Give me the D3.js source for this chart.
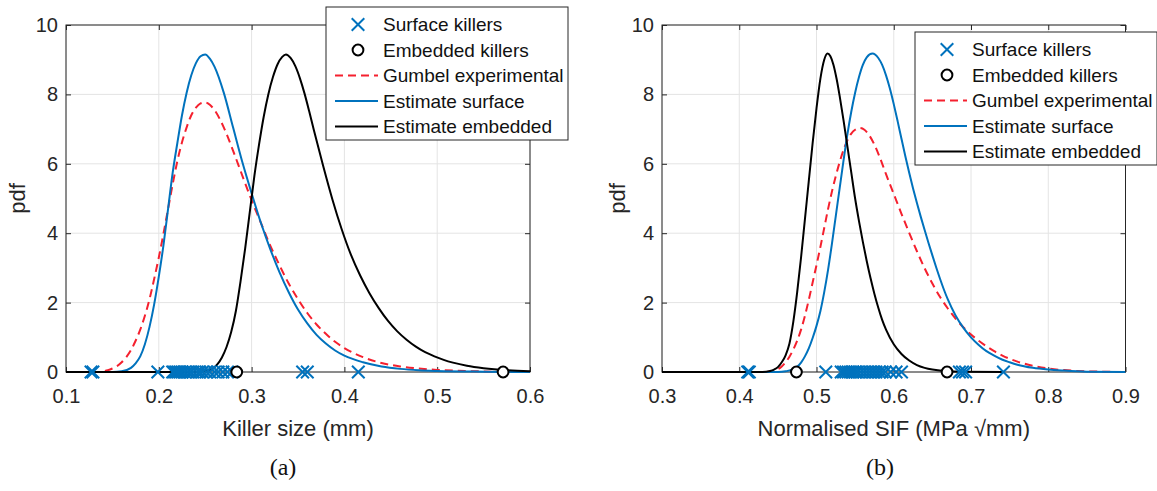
<!DOCTYPE html>
<html>
<head>
<meta charset="utf-8">
<script src="https://cdn.jsdelivr.net/npm/d3@7"></script>
<style>
  body { margin: 0; background: #fff; }
  svg { display: block; }
</style>
</head>
<body>
<script>
// ---- panel (a): killer size ----
const sizeTicks = [0.1, 0.2, 0.3, 0.4, 0.5, 0.6];
const pdfTicks = [0, 2, 4, 6, 8, 10];

const sizeSurfaceKillers = [0.127, 0.129, 0.199, 0.215, 0.217, 0.219, 0.221, 0.223, 0.225, 0.228, 0.231,
  0.234, 0.237, 0.241, 0.244, 0.247, 0.251, 0.255, 0.260, 0.264, 0.269, 0.274, 0.279, 0.355, 0.360, 0.415];
const sizeEmbeddedKillers = [0.284, 0.571];

const sizeGumbelExp = [[0.10, 0], [0.135, 0], [0.14, 0.02], [0.145, 0.05], [0.15, 0.1], [0.155, 0.17],
  [0.16, 0.28], [0.165, 0.43], [0.17, 0.63], [0.175, 0.9], [0.18, 1.22], [0.185, 1.62], [0.19, 2.1],
  [0.195, 2.68], [0.20, 3.3], [0.205, 3.98], [0.21, 4.7], [0.215, 5.42], [0.22, 6.08], [0.225, 6.62],
  [0.23, 7.05], [0.235, 7.4], [0.24, 7.62], [0.245, 7.74], [0.25, 7.77], [0.255, 7.7], [0.26, 7.55],
  [0.27, 7.05], [0.28, 6.38], [0.29, 5.66], [0.30, 4.95], [0.31, 4.3], [0.32, 3.65], [0.33, 3.08],
  [0.34, 2.55], [0.35, 2.1], [0.36, 1.7], [0.37, 1.37], [0.38, 1.1], [0.39, 0.87], [0.40, 0.69],
  [0.42, 0.43], [0.44, 0.26], [0.46, 0.16], [0.48, 0.1], [0.50, 0.06], [0.53, 0.03], [0.56, 0.01], [0.60, 0]];
const sizeEstSurface = [[0.10, 0], [0.15, 0], [0.16, 0.02], [0.17, 0.12], [0.175, 0.25], [0.18, 0.45],
  [0.185, 0.8], [0.19, 1.3], [0.195, 1.95], [0.20, 2.75], [0.205, 3.65], [0.21, 4.7], [0.215, 5.75],
  [0.22, 6.6], [0.225, 7.4], [0.23, 8.05], [0.235, 8.55], [0.24, 8.9], [0.245, 9.1], [0.25, 9.15],
  [0.255, 9.03], [0.26, 8.8], [0.27, 8.05], [0.28, 7.05], [0.29, 6.05], [0.30, 5.15], [0.31, 4.3],
  [0.32, 3.55], [0.33, 2.88], [0.34, 2.3], [0.35, 1.8], [0.36, 1.4], [0.37, 1.07], [0.38, 0.82],
  [0.39, 0.62], [0.40, 0.47], [0.42, 0.28], [0.44, 0.16], [0.46, 0.09], [0.48, 0.05], [0.50, 0.03],
  [0.55, 0.01], [0.60, 0]];
const sizeEstEmbedded = [[0.10, 0], [0.24, 0], [0.248, 0.02], [0.258, 0.1], [0.263, 0.22], [0.268, 0.42],
  [0.273, 0.72], [0.278, 1.15], [0.283, 1.75], [0.288, 2.6], [0.293, 3.55], [0.298, 4.6], [0.303, 5.65],
  [0.308, 6.55], [0.313, 7.35], [0.318, 8.0], [0.323, 8.5], [0.328, 8.87], [0.333, 9.08], [0.337, 9.15],
  [0.342, 9.05], [0.347, 8.82], [0.352, 8.47], [0.357, 8.03], [0.362, 7.52], [0.367, 6.98], [0.377, 5.95],
  [0.387, 4.98], [0.397, 4.12], [0.407, 3.38], [0.417, 2.78], [0.427, 2.27], [0.437, 1.84], [0.447, 1.47],
  [0.457, 1.17], [0.467, 0.93], [0.477, 0.73], [0.487, 0.57], [0.497, 0.45], [0.507, 0.35], [0.517, 0.27],
  [0.532, 0.18], [0.55, 0.11], [0.575, 0.05], [0.60, 0.02]];

// ---- panel (b): normalised SIF ----
const sifTicks = [0.3, 0.4, 0.5, 0.6, 0.7, 0.8, 0.9];

const sifSurfaceKillers = [0.411, 0.413, 0.512, 0.532, 0.535, 0.538, 0.541, 0.544, 0.547, 0.550, 0.553, 0.557,
  0.561, 0.565, 0.569, 0.573, 0.577, 0.581, 0.585, 0.589, 0.596, 0.603, 0.610, 0.685, 0.689, 0.693, 0.742];
const sifEmbeddedKillers = [0.474, 0.669];

const sifGumbelExp = [[0.30, 0], [0.435, 0], [0.445, 0.04], [0.45, 0.08], [0.455, 0.16], [0.46, 0.28],
  [0.465, 0.44], [0.47, 0.65], [0.475, 0.9], [0.48, 1.22], [0.485, 1.62], [0.49, 2.08], [0.495, 2.58],
  [0.50, 3.08], [0.505, 3.6], [0.51, 4.15], [0.515, 4.7], [0.52, 5.2], [0.525, 5.65], [0.53, 6.05],
  [0.535, 6.4], [0.54, 6.68], [0.545, 6.87], [0.55, 6.98], [0.556, 7.03], [0.562, 6.98], [0.568, 6.83],
  [0.575, 6.55], [0.582, 6.18], [0.59, 5.7], [0.60, 5.13], [0.61, 4.56], [0.62, 4.01], [0.63, 3.48],
  [0.64, 2.99], [0.65, 2.55], [0.66, 2.16], [0.67, 1.83], [0.68, 1.54], [0.69, 1.29], [0.70, 1.08],
  [0.71, 0.9], [0.72, 0.74], [0.73, 0.6], [0.74, 0.48], [0.75, 0.38], [0.76, 0.3], [0.78, 0.18],
  [0.80, 0.1], [0.82, 0.055], [0.85, 0.02], [0.90, 0]];
const sifEstSurface = [[0.30, 0], [0.45, 0], [0.46, 0.02], [0.47, 0.08], [0.475, 0.15], [0.48, 0.27],
  [0.485, 0.45], [0.49, 0.68], [0.495, 0.98], [0.50, 1.33], [0.505, 1.75], [0.51, 2.3], [0.515, 2.95],
  [0.52, 3.7], [0.525, 4.5], [0.53, 5.3], [0.535, 6.1], [0.54, 6.85], [0.545, 7.5], [0.55, 8.05],
  [0.555, 8.5], [0.56, 8.85], [0.565, 9.07], [0.5725, 9.18], [0.58, 9.05], [0.585, 8.85], [0.59, 8.55],
  [0.595, 8.17], [0.60, 7.72], [0.605, 7.23], [0.61, 6.72], [0.615, 6.22], [0.62, 5.74], [0.625, 5.29],
  [0.63, 4.87], [0.635, 4.47], [0.64, 4.09], [0.645, 3.72], [0.65, 3.36], [0.655, 3.01], [0.66, 2.68],
  [0.665, 2.37], [0.67, 2.09], [0.68, 1.63], [0.69, 1.28], [0.70, 1.0], [0.71, 0.78], [0.72, 0.6],
  [0.73, 0.47], [0.74, 0.36], [0.75, 0.28], [0.76, 0.21], [0.78, 0.12], [0.80, 0.07], [0.82, 0.04],
  [0.85, 0.01], [0.90, 0]];
const sifEstEmbedded = [[0.30, 0], [0.43, 0], [0.44, 0.03], [0.445, 0.07], [0.45, 0.14], [0.455, 0.28],
  [0.46, 0.48], [0.465, 0.82], [0.47, 1.45], [0.475, 2.3], [0.48, 3.3], [0.485, 4.4], [0.49, 5.5],
  [0.495, 6.6], [0.50, 7.6], [0.505, 8.45], [0.51, 9.0], [0.5142, 9.18], [0.518, 9.1], [0.522, 8.85],
  [0.526, 8.45], [0.53, 7.95], [0.535, 7.25], [0.54, 6.5], [0.545, 5.75], [0.55, 5.0], [0.555, 4.35],
  [0.56, 3.75], [0.565, 3.2], [0.57, 2.7], [0.575, 2.25], [0.58, 1.85], [0.585, 1.5], [0.59, 1.22],
  [0.60, 0.8], [0.61, 0.52], [0.62, 0.33], [0.63, 0.2], [0.64, 0.12], [0.65, 0.07], [0.665, 0.03],
  [0.69, 0.01], [0.742, 0]];

const legendLabels = ["Surface killers", "Embedded killers", "Gumbel experimental", "Estimate surface", "Estimate embedded"];

// ---- estilo ----
const WIDTH = 1157, HEIGHT = 491;
const PLOT_TOP = 25, PLOT_BOTTOM = 372;
const BLUE = "#0072bd", RED = "#f5202e", BLACK = "#000";
const AXIS = "#262626", GRID = "#e4e4e4";
const SANS = "'Liberation Sans', Arial, sans-serif";

const svg = d3.select("body").append("svg")
  .attr("width", WIDTH)
  .attr("height", HEIGHT)
  .attr("viewBox", `0 0 ${WIDTH} ${HEIGHT}`);

function styleAxis(sel, showText) {
  sel.select(".domain").remove();
  sel.selectAll(".tick line").attr("stroke", AXIS).attr("stroke-width", 1);
  sel.selectAll(".tick text")
    .attr("fill", AXIS)
    .style("font-family", SANS)
    .style("font-size", "20px")
    .style("display", showText ? null : "none");
}

function drawLegend(x0, y0) {
  const w = 242, h = 133, step = 25.5;
  const g = svg.append("g").attr("transform", `translate(${x0},${y0})`);
  g.append("rect").attr("width", w).attr("height", h)
    .attr("fill", "#fff").attr("stroke", AXIS).attr("stroke-width", 1);

  const rows = g.selectAll("g.row").data(legendLabels).join("g")
    .attr("class", "row")
    .attr("transform", (d, i) => `translate(0,${17.5 + i * step})`);

  rows.append("text")
    .attr("x", 57)
    .attr("dy", "0.36em")
    .text(d => d)
    .style("font-family", SANS)
    .style("font-size", "19px")
    .attr("fill", "#111");

  // muestras
  const cross = d3.symbol().type(d3.symbolX).size(105);
  g.append("path").attr("d", cross).attr("transform", `translate(32,17.5)`)
    .attr("fill", "none").attr("stroke", BLUE).attr("stroke-width", 2);
  g.append("circle").attr("cx", 32).attr("cy", 17.5 + step).attr("r", 5.4)
    .attr("fill", "#fff").attr("stroke", BLACK).attr("stroke-width", 2);
  const lineStyles = [[RED, "8,5"], [BLUE, null], [BLACK, null]];
  lineStyles.forEach(([c, dash], i) => {
    g.append("line")
      .attr("x1", 9).attr("x2", 52)
      .attr("y1", 17.5 + (i + 2) * step).attr("y2", 17.5 + (i + 2) * step)
      .attr("stroke", c).attr("stroke-width", 2)
      .attr("stroke-dasharray", dash);
  });
}

function drawPanel(cfg) {
  const x = d3.scaleLinear().domain(cfg.xDomain).range([cfg.x0, cfg.x1]);
  const y = d3.scaleLinear().domain([0, 10]).range([PLOT_BOTTOM, PLOT_TOP]);
  const g = svg.append("g");

  // rejilla
  g.append("g").selectAll("line").data(cfg.xTicks).join("line")
    .attr("x1", d => x(d)).attr("x2", d => x(d))
    .attr("y1", PLOT_TOP).attr("y2", PLOT_BOTTOM)
    .attr("stroke", GRID).attr("stroke-width", 1);
  g.append("g").selectAll("line").data(pdfTicks).join("line")
    .attr("x1", cfg.x0).attr("x2", cfg.x1)
    .attr("y1", d => y(d)).attr("y2", d => y(d))
    .attr("stroke", GRID).attr("stroke-width", 1);

  // ejes con marcas hacia dentro, como en MATLAB
  g.append("g").attr("transform", `translate(0,${PLOT_BOTTOM})`)
    .call(d3.axisBottom(x).tickValues(cfg.xTicks).tickFormat(d3.format(".1f"))
      .tickSizeInner(-5).tickSizeOuter(0).tickPadding(17))
    .call(s => styleAxis(s, true));
  g.append("g").attr("transform", `translate(0,${PLOT_TOP})`)
    .call(d3.axisTop(x).tickValues(cfg.xTicks).tickSizeInner(-5).tickSizeOuter(0))
    .call(s => styleAxis(s, false));
  g.append("g").attr("transform", `translate(${cfg.x0},0)`)
    .call(d3.axisLeft(y).tickValues(pdfTicks).tickFormat(d3.format("d"))
      .tickSizeInner(-5).tickSizeOuter(0).tickPadding(8))
    .call(s => styleAxis(s, true));
  g.append("g").attr("transform", `translate(${cfg.x1},0)`)
    .call(d3.axisRight(y).tickValues(pdfTicks).tickSizeInner(-5).tickSizeOuter(0))
    .call(s => styleAxis(s, false));

  g.append("rect")
    .attr("x", cfg.x0).attr("y", PLOT_TOP)
    .attr("width", cfg.x1 - cfg.x0).attr("height", PLOT_BOTTOM - PLOT_TOP)
    .attr("fill", "none").attr("stroke", AXIS).attr("stroke-width", 1);

  // curvas
  const clipId = "clip-" + cfg.id;
  svg.append("clipPath").attr("id", clipId).append("rect")
    .attr("x", cfg.x0).attr("y", PLOT_TOP - 2)
    .attr("width", cfg.x1 - cfg.x0).attr("height", PLOT_BOTTOM - PLOT_TOP + 4);
  const line = d3.line().x(d => x(d[0])).y(d => y(d[1])).curve(d3.curveMonotoneX);
  const curves = g.append("g").attr("clip-path", `url(#${clipId})`);
  [[cfg.gumbel, RED, "8,5"], [cfg.surface, BLUE, null], [cfg.embedded, BLACK, null]].forEach(([data, c, dash]) => {
    curves.append("path").datum(data)
      .attr("d", line)
      .attr("fill", "none")
      .attr("stroke", c)
      .attr("stroke-width", 2)
      .attr("stroke-dasharray", dash);
  });

  // killers sobre el eje
  const cross = d3.symbol().type(d3.symbolX).size(105);
  g.append("g").selectAll("path").data(cfg.surfaceKillers).join("path")
    .attr("d", cross)
    .attr("transform", d => `translate(${x(d)},${y(0)})`)
    .attr("fill", "none").attr("stroke", BLUE).attr("stroke-width", 2);
  g.append("g").selectAll("circle").data(cfg.embeddedKillers).join("circle")
    .attr("cx", d => x(d)).attr("cy", y(0)).attr("r", 5.4)
    .attr("fill", "#fff").attr("stroke", BLACK).attr("stroke-width", 2);

  // titulos
  g.append("text")
    .attr("x", (cfg.x0 + cfg.x1) / 2).attr("y", 428).attr("dy", "0.35em")
    .attr("text-anchor", "middle").attr("fill", AXIS)
    .style("font-family", SANS).style("font-size", "22px")
    .text(cfg.xLabel);
  g.append("text")
    .attr("transform", `translate(${cfg.yLabelX},${(PLOT_TOP + PLOT_BOTTOM) / 2}) rotate(-90)`)
    .attr("dy", "0.35em").attr("text-anchor", "middle").attr("fill", AXIS)
    .style("font-family", SANS).style("font-size", "22px")
    .text("pdf");
  g.append("text")
    .attr("x", cfg.captionX).attr("y", 467).attr("dy", "0.35em")
    .attr("text-anchor", "middle").attr("fill", "#111")
    .style("font-family", "'Liberation Serif', 'DejaVu Serif', serif").style("font-size", "24px")
    .text(cfg.caption);
}

drawPanel({
  id: "a", xDomain: [0.1, 0.6], x0: 66, x1: 530, xTicks: sizeTicks,
  gumbel: sizeGumbelExp, surface: sizeEstSurface, embedded: sizeEstEmbedded,
  surfaceKillers: sizeSurfaceKillers, embeddedKillers: sizeEmbeddedKillers,
  xLabel: "Killer size (mm)", yLabelX: 17, caption: "(a)", captionX: 283
});
drawPanel({
  id: "b", xDomain: [0.3, 0.9], x0: 662, x1: 1125.5, xTicks: sifTicks,
  gumbel: sifGumbelExp, surface: sifEstSurface, embedded: sifEstEmbedded,
  surfaceKillers: sifSurfaceKillers, embeddedKillers: sifEmbeddedKillers,
  xLabel: "Normalised SIF (MPa \u221Amm)", yLabelX: 617, caption: "(b)", captionX: 880
});

drawLegend(326, 7);
drawLegend(915, 32);
</script>
</body>
</html>
